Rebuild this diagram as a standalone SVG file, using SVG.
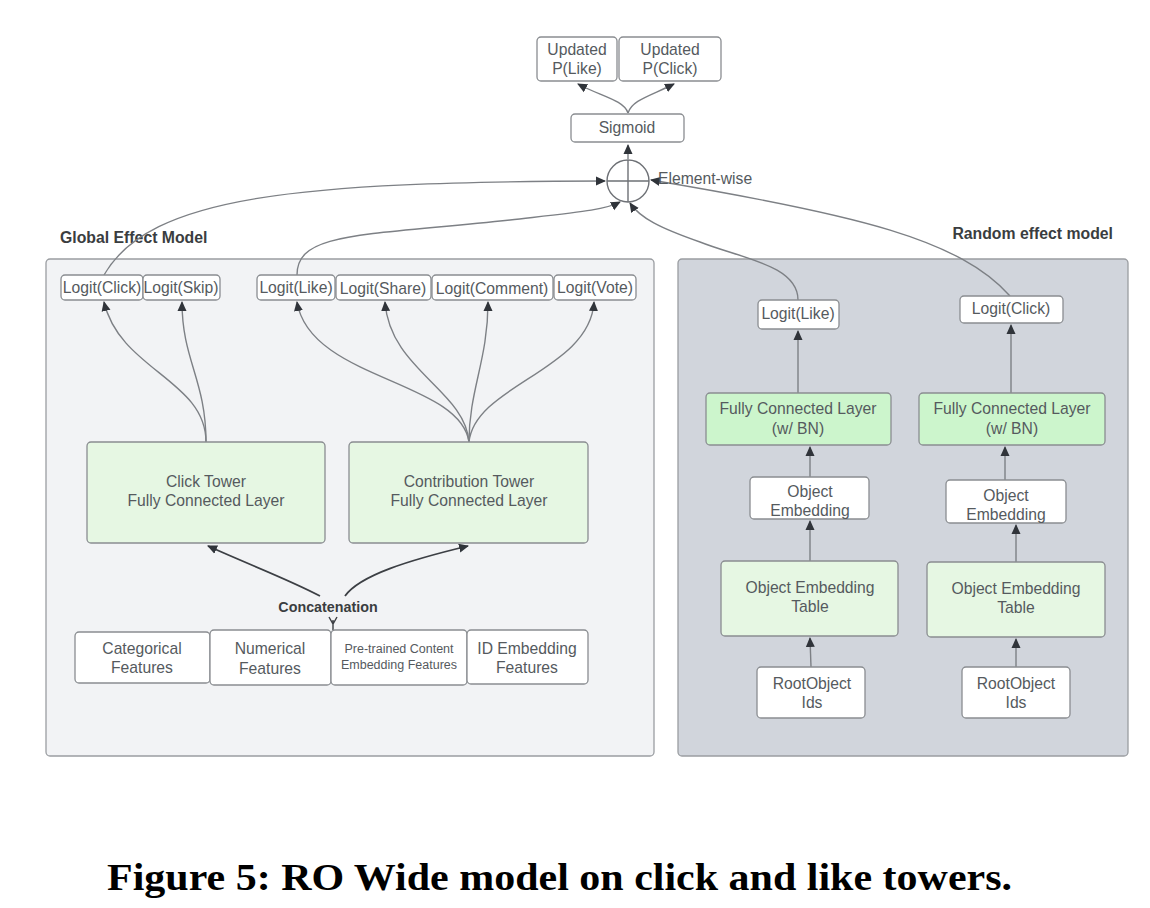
<svg xmlns="http://www.w3.org/2000/svg" width="1150" height="908" viewBox="0 0 1150 908">
<style>
.bx{fill:#fff;stroke:#8a8d91;stroke-width:1.3}
.gr{fill:#e6f7e3;stroke:#8a8d91;stroke-width:1.3}
.gb{fill:#ccf5cc;stroke:#8a8d91;stroke-width:1.3}
.t{font-family:"Liberation Sans",Arial,sans-serif;font-size:15.7px;fill:#555a5e;text-anchor:middle}
.ts{font-family:"Liberation Sans",Arial,sans-serif;font-size:12.5px;fill:#555a5e;text-anchor:middle}
.lb{font-family:"Liberation Sans",Arial,sans-serif;font-size:15.8px;font-weight:bold;fill:#3a3d40}
.cc{font-family:"Liberation Sans",Arial,sans-serif;font-size:14.3px;font-weight:bold;fill:#3a3d40;text-anchor:middle}
.c{fill:none;stroke:#7d8085;stroke-width:1.4}
.cd{fill:none;stroke:#3c3f44;stroke-width:1.8}
</style>
<defs>
<marker id="ah" markerWidth="10" markerHeight="10" refX="9" refY="5" orient="auto" markerUnits="userSpaceOnUse">
<path d="M0,0.5 L10,5 L0,9.5 z" fill="#30343a"/>
</marker>
</defs>
<rect width="1150" height="908" fill="#fff"/>

<g id="panels">
<rect x="46" y="259" width="608" height="497" rx="4" fill="#f2f3f5" stroke="#9a9da1" stroke-width="1.3"/>
<rect x="678" y="259" width="450" height="497" rx="4" fill="#d1d5dc" stroke="#9a9da1" stroke-width="1.3"/>
<text class="lb" x="60" y="243">Global Effect Model</text>
<text class="lb" x="1113" y="239" text-anchor="end">Random effect model</text>
</g>

<g id="connectors">
<path class="c" d="M628,159 L628,145" marker-end="url(#ah)"/>
<path class="c" d="M628,113 C624,100 600,96 578,84" marker-end="url(#ah)"/>
<path class="c" d="M628,113 C632,100 650,96 674,84" marker-end="url(#ah)"/>
<path class="c" d="M104,275 C150,195 300,182 605,181" marker-end="url(#ah)"/>
<path class="c" d="M297,275 C297,232 360,236 510,220 C580,212 605,210 620,202" marker-end="url(#ah)"/>
<path class="c" d="M798,300 C798,265 740,258 700,242 C660,228 640,218 630,203" marker-end="url(#ah)"/>
<path class="c" d="M1010,296 C960,240 860,215 651,180" marker-end="url(#ah)"/>
<path class="c" d="M206,442 C206,380 120,370 104,302" marker-end="url(#ah)"/>
<path class="c" d="M206,442 C206,380 182,360 182,302" marker-end="url(#ah)"/>
<path class="c" d="M469,442 C460,380 310,380 297,302" marker-end="url(#ah)"/>
<path class="c" d="M469,442 C465,390 390,370 385,302" marker-end="url(#ah)"/>
<path class="c" d="M469,442 C469,390 488,360 488,302" marker-end="url(#ah)"/>
<path class="c" d="M469,442 C475,385 590,370 594,302" marker-end="url(#ah)"/>
<path class="cd" d="M320,596 C290,580 250,565 208,546" marker-end="url(#ah)"/>
<path class="cd" d="M345,596 C360,575 410,560 468,546" marker-end="url(#ah)"/>
<path d="M333,620 L333,630 M329,617 L333,624 L337,617" fill="none" stroke="#3c3f44" stroke-width="1.4"/>
<path class="c" d="M798,393 L798,331" marker-end="url(#ah)"/>
<path class="c" d="M1011,393 L1011,325" marker-end="url(#ah)"/>
<path class="c" d="M810,477 L810,447" marker-end="url(#ah)"/>
<path class="c" d="M1005,480 L1005,447" marker-end="url(#ah)"/>
<path class="c" d="M810,561 L810,521" marker-end="url(#ah)"/>
<path class="c" d="M1016,562 L1016,525" marker-end="url(#ah)"/>
<path class="c" d="M811,667 L810,638" marker-end="url(#ah)"/>
<path class="c" d="M1016,667 L1016,639" marker-end="url(#ah)"/>
</g>

<g id="upd-like"><rect class="bx" x="537" y="37" width="80" height="44" rx="4"/><text class="t" x="577" y="55">Updated</text><text class="t" x="577" y="74">P(Like)</text></g>
<g id="upd-click"><rect class="bx" x="619" y="37" width="102" height="44" rx="4"/><text class="t" x="670" y="55">Updated</text><text class="t" x="670" y="74">P(Click)</text></g>
<g id="sigmoid"><rect class="bx" x="571" y="114" width="113" height="28" rx="4"/><text class="t" x="627" y="133">Sigmoid</text></g>
<g id="sum">
<circle cx="628" cy="181" r="21" fill="#fff" stroke="#6e7176" stroke-width="1.4"/>
<path d="M607,181 H649 M628,160 V202" stroke="#6e7176" stroke-width="1.4"/>
<text x="658" y="184" font-family="Liberation Sans,Arial,sans-serif" font-size="15.7" fill="#555a5e">Element-wise</text>
</g>

<g id="g-logit-click"><rect class="bx" x="61" y="275" width="82" height="25" rx="4"/><text class="t" x="102" y="293">Logit(Click)</text></g>
<g id="g-logit-skip"><rect class="bx" x="143" y="275" width="77" height="25" rx="4"/><text class="t" x="181" y="293">Logit(Skip)</text></g>
<g id="g-logit-like"><rect class="bx" x="257" y="275" width="78" height="25" rx="4"/><text class="t" x="296" y="293">Logit(Like)</text></g>
<g id="g-logit-share"><rect class="bx" x="336" y="275" width="95" height="25" rx="4"/><text class="t" x="383" y="294">Logit(Share)</text></g>
<g id="g-logit-comment"><rect class="bx" x="432" y="275" width="121" height="25" rx="4"/><text class="t" x="492" y="294">Logit(Comment)</text></g>
<g id="g-logit-vote"><rect class="bx" x="554" y="275" width="82" height="25" rx="4"/><text class="t" x="595" y="293">Logit(Vote)</text></g>

<g id="click-tower"><rect class="gr" x="87" y="442" width="238" height="101" rx="4"/><text class="t" x="206" y="487">Click Tower</text><text class="t" x="206" y="506">Fully Connected Layer</text></g>
<g id="contrib-tower"><rect class="gr" x="349" y="442" width="239" height="101" rx="4"/><text class="t" x="469" y="487">Contribution Tower</text><text class="t" x="469" y="506">Fully Connected Layer</text></g>

<g id="concat"><text class="cc" x="328" y="612">Concatenation</text></g>

<g id="f-cat"><rect class="bx" x="75" y="632" width="135" height="51" rx="4"/><text class="t" x="142" y="654">Categorical</text><text class="t" x="142" y="673">Features</text></g>
<g id="f-num"><rect class="bx" x="210" y="630" width="121" height="55" rx="4"/><text class="t" x="270" y="654">Numerical</text><text class="t" x="270" y="674">Features</text></g>
<g id="f-pre"><rect class="bx" x="331" y="630" width="136" height="55" rx="4"/><text class="ts" x="399" y="653">Pre-trained Content</text><text class="ts" x="399" y="669">Embedding Features</text></g>
<g id="f-id"><rect class="bx" x="467" y="630" width="121" height="54" rx="4"/><text class="t" x="527" y="654">ID Embedding</text><text class="t" x="527" y="673">Features</text></g>

<g id="r-logit-like"><rect class="bx" x="758" y="300" width="81" height="29" rx="4"/><text class="t" x="798" y="319">Logit(Like)</text></g>
<g id="r-logit-click"><rect class="bx" x="960" y="296" width="103" height="27" rx="4"/><text class="t" x="1011" y="314">Logit(Click)</text></g>
<g id="r-fc1"><rect class="gb" x="706" y="393" width="185" height="52" rx="4"/><text class="t" x="798" y="414">Fully Connected Layer</text><text class="t" x="798" y="434">(w/ BN)</text></g>
<g id="r-fc2"><rect class="gb" x="919" y="393" width="186" height="52" rx="4"/><text class="t" x="1012" y="414">Fully Connected Layer</text><text class="t" x="1012" y="434">(w/ BN)</text></g>
<g id="r-emb1"><rect class="bx" x="750" y="477" width="119" height="42" rx="4"/><text class="t" x="810" y="497">Object</text><text class="t" x="810" y="516">Embedding</text></g>
<g id="r-emb2"><rect class="bx" x="946" y="480" width="120" height="43" rx="4"/><text class="t" x="1006" y="501">Object</text><text class="t" x="1006" y="520">Embedding</text></g>
<g id="r-tab1"><rect class="gr" x="721" y="561" width="177" height="75" rx="4"/><text class="t" x="810" y="593">Object Embedding</text><text class="t" x="810" y="612">Table</text></g>
<g id="r-tab2"><rect class="gr" x="927" y="562" width="178" height="75" rx="4"/><text class="t" x="1016" y="594">Object Embedding</text><text class="t" x="1016" y="613">Table</text></g>
<g id="r-root1"><rect class="bx" x="757" y="667" width="108" height="51" rx="4"/><text class="t" x="812" y="689">RootObject</text><text class="t" x="812" y="708">Ids</text></g>
<g id="r-root2"><rect class="bx" x="962" y="667" width="108" height="51" rx="4"/><text class="t" x="1016" y="689">RootObject</text><text class="t" x="1016" y="708">Ids</text></g>

<text x="107" y="890" font-family="Liberation Serif,Times New Roman,serif" font-size="38" font-weight="bold" fill="#000" textLength="905" lengthAdjust="spacingAndGlyphs">Figure 5: RO Wide model on click and like towers.</text>
</svg>
